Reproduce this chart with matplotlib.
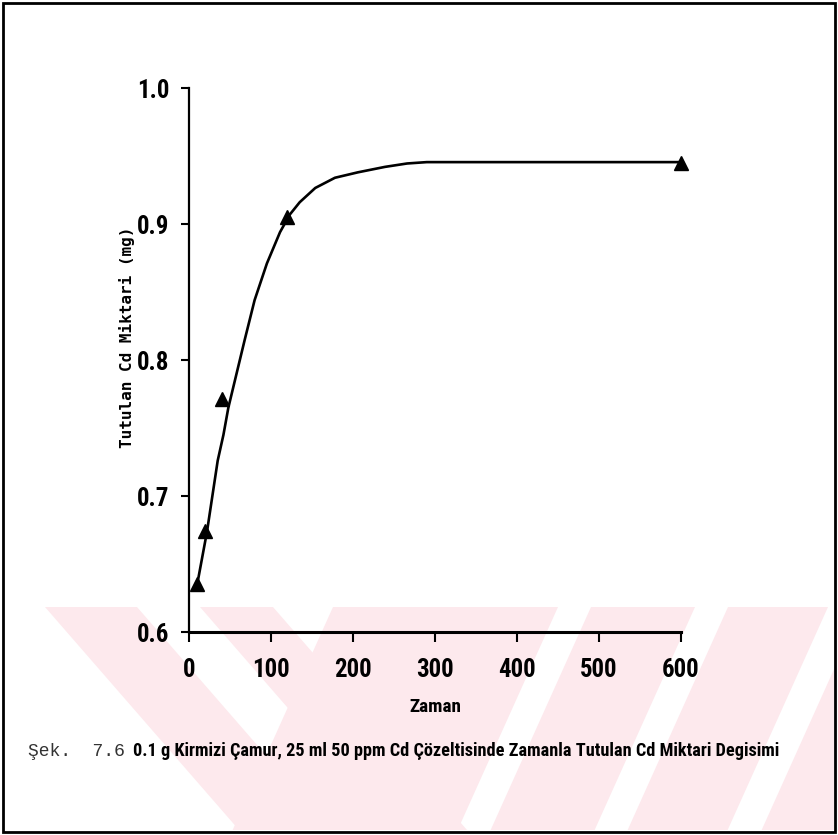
import os
import matplotlib
matplotlib.use('Agg')
import matplotlib.pyplot as plt
from matplotlib import font_manager
from matplotlib.font_manager import FontProperties
from matplotlib.patches import Polygon, Rectangle


# Cd retained by 0.1 g red mud in 25 ml of 50 ppm Cd solution, versus time
time_min = [10, 20, 40, 120, 600]
cd_retained = [0.635, 0.674, 0.771, 0.905, 0.945]

# hand-fitted trend line through the measurements
fit_time = [10, 22, 35, 42, 48, 58, 68, 80, 95, 111, 123, 135, 154, 178,
            206, 239, 266, 290, 350, 450, 600]
fit_cd = [0.635, 0.674, 0.726, 0.745, 0.765, 0.790, 0.815, 0.844, 0.871,
          0.894, 0.907, 0.916, 0.9265, 0.934, 0.938, 0.942, 0.9445, 0.9455,
          0.9455, 0.9455, 0.9455]

x_ticks = [0, 100, 200, 300, 400, 500, 600]
y_ticks = [0.6, 0.7, 0.8, 0.9, 1.0]

x_label = 'Zaman'
y_label = 'Tutulan Cd Miktari (mg)'
fig_number = 'Şek.  7.6'
caption = ('0.1 g Kirmizi Çamur, 25 ml 50 ppm Cd Çözeltisinde Zamanla '
           'Tutulan Cd Miktari Degisimi')


def narrow_font():
    # prefer a condensed bold face, fall back to Roboto bold
    wanted = ['LiberationSansNarrow-Bold.ttf', 'RobotoCondensed-Bold.ttf',
              'DejaVuSansCondensed-Bold.ttf', 'OpenSans_Condensed-Bold.ttf',
              'OpenSans-CondBold.ttf']
    files = {os.path.basename(f.fname): f.fname
             for f in font_manager.fontManager.ttflist}
    for name in wanted:
        if name in files:
            return lambda: FontProperties(fname=files[name])
    return lambda: FontProperties(family='Roboto', weight='bold')


make_font = narrow_font()


def fit_width(txt, target_px, renderer):
    w = txt.get_window_extent(renderer).width
    txt.set_fontsize(txt.get_fontsize() * target_px / w)


W, H = 838, 835
fig = plt.figure(figsize=(W / 100, H / 100), dpi=100)

# page background: frame and faint diagonal band pattern at the bottom
bg = fig.add_axes([0, 0, 1, 1], zorder=-1)
bg.set_xlim(0, W)
bg.set_ylim(H, 0)
bg.axis('off')

band_top, band_bottom = 607, 830
clip = Rectangle((5, band_top), 829, band_bottom - band_top,
                 transform=bg.transData, visible=False)
bg.add_patch(clip)
pink = '#fde9ed'
dy = band_bottom - band_top
stripes = [((45, 137), 0.87), ((200, 273), 0.87),
           ((333, 558), -0.45), ((591, 695), -0.45),
           ((728, 828), -0.45), ((862, 960), -0.45)]
for (x0, x1), slope in stripes:
    poly = Polygon([(x0, band_top), (x1, band_top),
                    (x1 + slope * dy, band_bottom), (x0 + slope * dy, band_bottom)],
                   closed=True, facecolor=pink, edgecolor='none')
    bg.add_patch(poly)
    poly.set_clip_path(clip)

bg.add_patch(Rectangle((3, 3), 832, 829, fill=False, edgecolor='black', linewidth=2))

# main plot
ax = fig.add_axes([189 / W, 203 / H, 492 / W, 544 / H])
ax.set_facecolor('none')
ax.plot(fit_time, fit_cd, color='black', linewidth=1.9, zorder=2)
ax.plot(time_min, cd_retained, linestyle='none', marker='^', markersize=10,
        color='black', zorder=3, clip_on=False)

ax.set_xlim(0, 600)
ax.set_ylim(0.6, 1.0)
ax.set_xticks(x_ticks)
ax.set_yticks(y_ticks)
ax.set_xticklabels([str(v) for v in x_ticks])
ax.set_yticklabels(['%.1f' % v for v in y_ticks])

for side in ['top', 'right']:
    ax.spines[side].set_visible(False)
ax.spines['left'].set_linewidth(1.6)
ax.spines['bottom'].set_linewidth(2.2)

ax.tick_params(axis='y', direction='out', length=6, width=1.5, pad=8)
ax.tick_params(axis='x', direction='out', length=7, width=1.5, pad=12)

renderer = fig.canvas.get_renderer()
probe = fig.text(0, 0, '100', fontproperties=make_font(), fontsize=17)
fit_width(probe, 38, renderer)
tick_size = probe.get_fontsize()
probe.remove()
for lab in ax.get_xticklabels() + ax.get_yticklabels():
    lab.set_fontproperties(make_font())
    lab.set_fontsize(tick_size)

xl = fig.text(435 / W, 1 - 707 / H, x_label, ha='center', va='center',
              fontproperties=make_font(), fontsize=13)
fit_width(xl, 52, renderer)

fig.text(127 / W, 1 - 337 / H, y_label, ha='center', va='center', rotation=90,
         fontfamily='DejaVu Sans Mono', fontsize=11.5, fontweight='bold')

fig.text(28 / W, 1 - 752 / H, fig_number, ha='left', va='center',
         fontfamily='Liberation Mono', fontsize=13, color='#333333')
cap = fig.text(133 / W, 1 - 751 / H, caption, ha='left', va='center',
               fontproperties=make_font(), fontsize=12)
fit_width(cap, 648, renderer)

fig.savefig('out.png', dpi=100)
plt.close(fig)
